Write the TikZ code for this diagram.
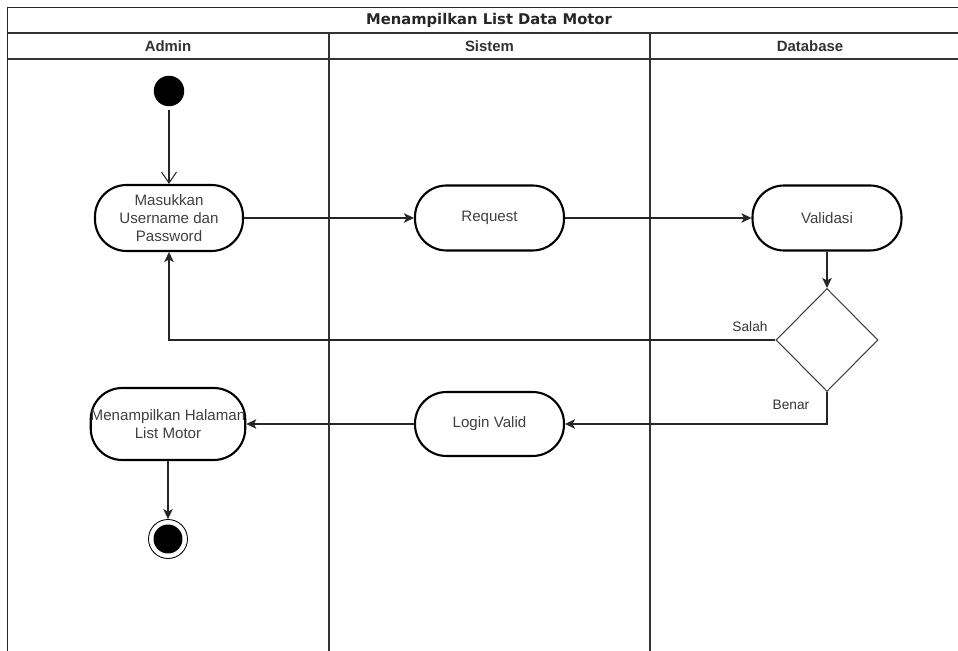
\documentclass[tikz,border=0pt]{standalone}
\usepackage{fontspec}
\setmainfont{Liberation Sans}
\newfontfamily\titlefont{DejaVu Sans}
\usetikzlibrary{arrows.meta,shapes.geometric}

\tikzset{
  pool/.style={draw=black!80, line width=0.6pt},
  outline/.style={draw=black!85, line width=0.9pt},
  titletext/.style={font=\titlefont\bfseries\fontsize{8.4}{10}\selectfont, text=black!85},
  lanetext/.style={font=\bfseries\fontsize{8.5}{10}\selectfont, text=black!80},
  activity/.style={draw=black, line width=1.2pt, rounded corners=0.63cm, fill=white,
    minimum width=2.98cm, minimum height=1.3cm, inner sep=0pt, align=center,
    text=black!75, font=\fontsize{8.6}{10.2}\selectfont},
  decision/.style={diamond, draw=black!75, line width=0.6pt, fill=white,
    minimum width=2.04cm, minimum height=2.06cm, inner sep=0pt},
  initstate/.style={circle, fill=black, minimum size=0.61cm, inner sep=0pt},
  endstate/.style={circle, draw=black, line width=0.5pt, fill=white, minimum size=0.78cm, inner sep=0pt,
    path picture={\fill[black] (path picture bounding box.center) circle (0.29cm);}},
  guardtext/.style={text=black!80, font=\fontsize{7.8}{9}\selectfont, inner sep=1pt},
  flow/.style={draw=black!85, line width=0.6pt, -{Stealth[length=0.2cm,width=0.19cm,inset=0.05cm]}}
}

\begin{document}
\begin{tikzpicture}[x=0.02cm, y=-0.02cm]
  \useasboundingbox (0,0) rectangle (958,651);
  \clip (0,0) rectangle (958,651);

  % Pool, title row and lanes
  \draw[pool] (7.5,33) -- (971,33);
  \draw[pool] (7.5,59) -- (971,59);
  \draw[pool] (329,33) -- (329,700);
  \draw[pool] (650,33) -- (650,700);
  \draw[outline] (7.5,7.5) rectangle (971,700);

  \node[titletext] (title)    at (489,20) {Menampilkan List Data Motor};
  \node[lanetext]  (admin)    at (168,46) {Admin};
  \node[lanetext]  (sistem)   at (489.5,46) {Sistem};
  \node[lanetext]  (database) at (810,46) {Database};

  % States and activities
  \node[initstate] (start) at (169,91) {};
  \node[activity, minimum width=2.96cm, minimum height=1.32cm] (masuk) at (169,218) {Masukkan\\Username dan\\Password};
  \node[activity] (request)  at (489.5,218) {Request};
  \node[activity] (validasi) at (827,218) {Validasi};
  \node[decision] (cek)      at (827,340) {};
  \node[activity, minimum height=1.28cm] (login) at (489.5,424) {Login Valid};
  \node[activity, minimum width=3.08cm, minimum height=1.44cm] (tampil) at (168,424) {Menampilkan Halaman\\List Motor};
  \node[endstate] (finish) at (168,539) {};

  % Guards
  \node[guardtext] (salah) at (750,327) {Salah};
  \node[guardtext] (benar) at (791,405) {Benar};

  % Control flow
  \draw[flow, -{Straight Barb[length=0.22cm,width=0.3cm]}, shorten <=0.06cm] (start) -- (masuk);
  \draw[flow] (masuk) -- (request);
  \draw[flow] (request) -- (validasi);
  \draw[flow, line width=1pt] (validasi) -- (cek);
  \draw[flow] (cek.west) -- (masuk.south |- cek.west) -- (masuk.south);
  \draw[flow] (cek.south) |- (login.east);
  \draw[flow] (login) -- (tampil);
  \draw[flow] (tampil) -- (finish);
\end{tikzpicture}
\end{document}
